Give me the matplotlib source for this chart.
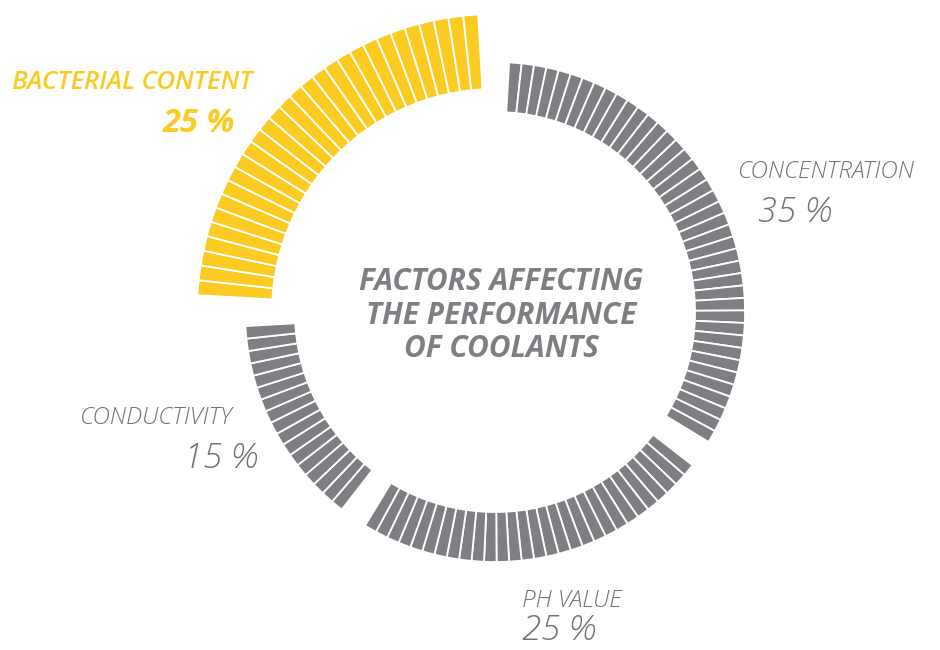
import numpy as np
import matplotlib
matplotlib.use("Agg")
import matplotlib.pyplot as plt

# factors and their share (%)
factors = ["CONCENTRATION", "PH VALUE", "CONDUCTIVITY", "BACTERIAL CONTENT"]
shares = [35, 25, 15, 25]
bar_counts = [41, 29, 17, 29]          # little bars drawn per factor
highlight = [False, False, False, True]

YELLOW = "#FCCB22"
GRAY = "#7E7F83"
TXT_GRAY = "#717276"

W, H = 940, 650
cx, cy = 495, 312          # ring centre, pixels from top-left
rmax = 310

pitch = np.deg2rad(2.88)
gap = (2 * np.pi - sum(bar_counts) * pitch) / len(bar_counts)

fig = plt.figure(figsize=(W / 100, H / 100), dpi=100)
ax = fig.add_axes([(cx - rmax) / W, (H - cy - rmax) / H, 2 * rmax / W, 2 * rmax / H],
                  projection="polar")
ax.set_theta_zero_location("N")
ax.set_theta_direction(-1)
ax.set_ylim(0, rmax)
ax.axis("off")

start = gap / 2
for name, n, hi in zip(factors, bar_counts, highlight):
    theta = start + pitch * (np.arange(n) + 0.5)
    if hi:
        r0, r1, col = 223, 298, YELLOW
    else:
        r0, r1, col = 200, 250, GRAY
    ax.bar(theta, r1 - r0, width=pitch, bottom=r0, color=col,
           edgecolor="white", linewidth=1.3, align="center")
    start += n * pitch + gap


def px(x, y):
    return x / W, 1 - y / H


fam = ["Open Sans", "DejaVu Sans"]

# category labels
fig.text(*px(12, 89), "BACTERIAL CONTENT", color=YELLOW, fontsize=18.5,
         fontweight="semibold", style="italic", family=fam, ha="left", va="baseline")
fig.text(*px(235, 132), f"{shares[3]} %", color=YELLOW, fontsize=23.5,
         fontweight="bold", style="italic", family=fam, ha="right", va="baseline")

fig.text(*px(738, 178), "CONCENTRATION", color=TXT_GRAY, fontsize=17.5,
         fontweight="light", style="italic", family=fam, ha="left", va="baseline")
fig.text(*px(758, 222), f"{shares[0]} %", color=TXT_GRAY, fontsize=25,
         fontweight="light", style="italic", family=fam, ha="left", va="baseline")

fig.text(*px(232, 424), "CONDUCTIVITY", color=TXT_GRAY, fontsize=17.5,
         fontweight="light", style="italic", family=fam, ha="right", va="baseline")
fig.text(*px(258, 468), f"{shares[2]} %", color=TXT_GRAY, fontsize=25,
         fontweight="light", style="italic", family=fam, ha="right", va="baseline")

fig.text(*px(522, 607), "PH VALUE", color=TXT_GRAY, fontsize=17.5,
         fontweight="light", style="italic", family=fam, ha="left", va="baseline")
fig.text(*px(522, 648), f"{shares[1]} %", color=TXT_GRAY, fontsize=25,
         fontweight="light", style="italic", family=fam, ha="left", va="bottom")

# centre title
for i, line in enumerate(["FACTORS AFFECTING", "THE PERFORMANCE", "OF COOLANTS"]):
    fig.text(*px(501, 290 + 33.5 * i), line, color=GRAY, fontsize=21.5,
             fontweight="bold", style="italic", family=fam, ha="center", va="baseline")

fig.savefig("out.png", dpi=100)
